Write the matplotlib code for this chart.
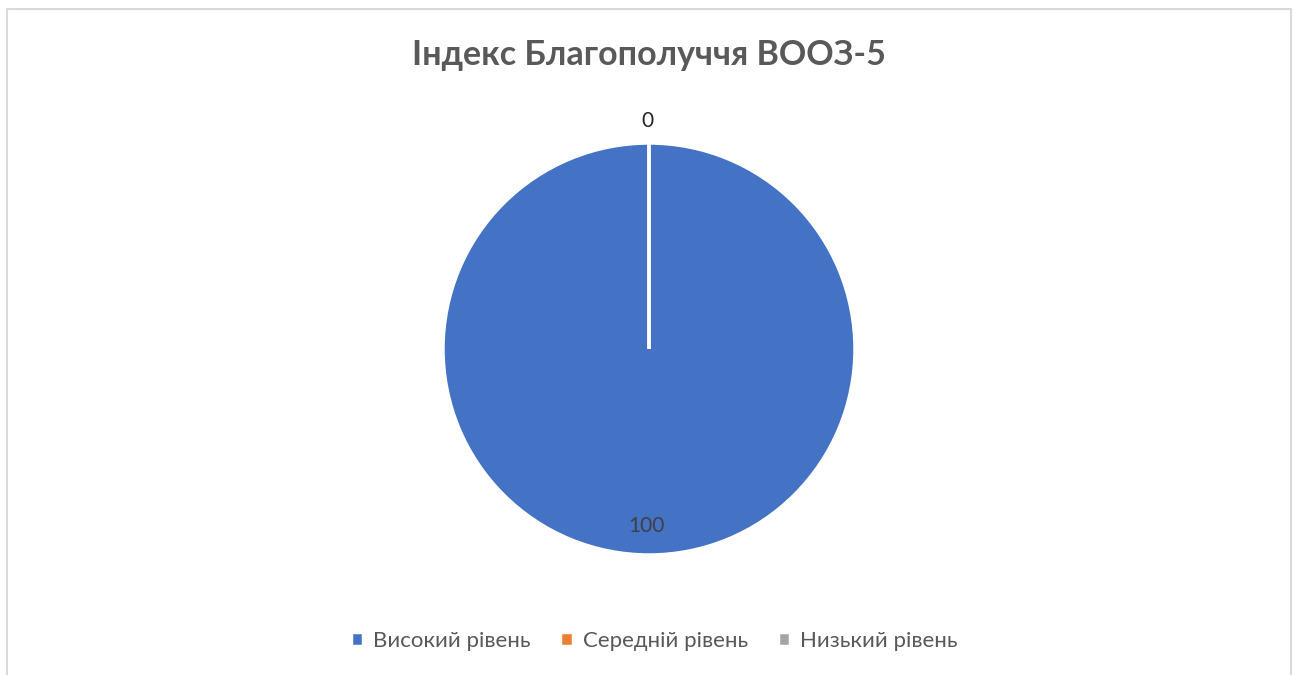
import numpy as np
import matplotlib.pyplot as plt
from matplotlib.lines import Line2D

plt.rcParams['font.family'] = ['Lato', 'Open Sans', 'DejaVu Sans']

# data
categories = ['Високий рівень', 'Середній рівень', 'Низький рівень']
values = [100, 0, 0]
colors = ['#4472C4', '#ED7D31', '#A5A5A5']
title = 'Індекс Благополуччя ВООЗ-5'

W, H = 1295, 675
fig = plt.figure(figsize=(W / 100, H / 100), dpi=100)

# chart area border (left, top, right only, bottom is cut off)
border = '#D9D9D9'
x0, x1, ytop = 6.5 / W, 1290.5 / W, 1 - 8.5 / H
fig.lines.append(Line2D([x0, x0, x1, x1], [0, ytop, ytop, 0],
                        transform=fig.transFigure, color=border, lw=1.5))

# pie axes: centre (649, 349), radius 206 px
cx, cy, r = 649, 349, 206
ax = fig.add_axes([(cx - r) / W, (H - cy - r) / H, 2 * r / W, 2 * r / H])
wedges, _ = ax.pie(values, colors=colors, startangle=90, counterclock=False,
                   wedgeprops=dict(edgecolor='white', linewidth=2.5))
ax.set_xlim(-1, 1)
ax.set_ylim(-1, 1)

# data labels
for w, v in zip(wedges, values):
    mid = np.deg2rad((w.theta1 + w.theta2) / 2)
    if v == 0:
        # zero slices share one label above the pie
        if w is wedges[1]:
            ax.text(1.105 * np.cos(mid) - 0.01, 1.105 * np.sin(mid), str(v), ha='center',
                    va='center', fontsize=15, color='#262626', clip_on=False)
    else:
        ax.text(0.86 * np.cos(mid) - 0.01, 0.86 * np.sin(mid), str(v), ha='center', va='center',
                fontsize=15, color='#404040')

fig.text(cx / W, 1 - 55 / H, title, ha='center', va='center',
         fontsize=24.5, fontweight='bold', color='#595959')

leg = fig.legend(wedges, categories, loc='center', bbox_to_anchor=(654 / W, 1 - 641 / H),
                 ncol=3, frameon=False, fontsize=16, handlelength=0.55, handleheight=0.55,
                 handletextpad=0.45, columnspacing=1.35)
for t in leg.get_texts():
    t.set_color('#595959')

fig.savefig('out.png', dpi=100, facecolor='white')
